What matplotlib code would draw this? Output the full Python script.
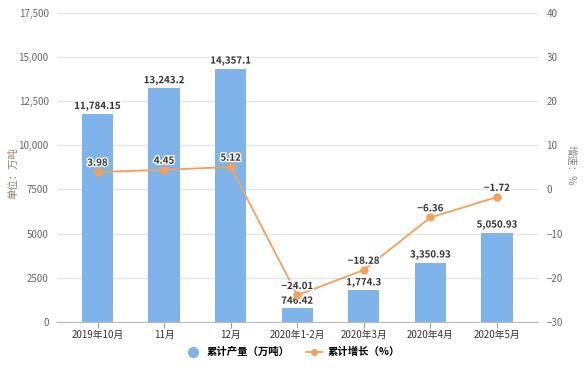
import matplotlib
matplotlib.use("Agg")
import matplotlib.pyplot as plt
import matplotlib.ticker as mtick
import matplotlib.patheffects as pe
from matplotlib.lines import Line2D

plt.rcParams['font.family'] = ['Noto Sans CJK SC', 'DejaVu Sans']

months = ['2019年10月', '11月', '12月', '2020年1-2月', '2020年3月', '2020年4月', '2020年5月']
output = [11784.15, 13243.2, 14357.1, 746.42, 1774.3, 3350.93, 5050.93]
growth = [3.98, 4.45, 5.12, -24.01, -18.28, -6.36, -1.72]
output_labels = ['11,784.15', '13,243.2', '14,357.1', '746.42', '1,774.3', '3,350.93', '5,050.93']
growth_labels = ['3.98', '4.45', '5.12', '−24.01', '−18.28', '−6.36', '−1.72']

bar_c = '#7eb4ea'
line_c = '#f5a05a'
grid_c = '#e6e6e6'
tick_c = '#666666'

fig = plt.figure(figsize=(5.85, 3.68), dpi=100)
ax = fig.add_axes([0.0974, 0.126, 0.8226, 0.838])
ax2 = ax.twinx()

x = list(range(len(months)))
ax.bar(x, output, width=0.47, color=bar_c, zorder=2)
ax.set_xlim(-0.61, 6.62)
ax.set_ylim(0, 17500)
ax.set_yticks(range(0, 17501, 2500))

def fmt(v, pos):
    return '{:,.0f}'.format(v) if v >= 10000 else '{:.0f}'.format(v)
ax.yaxis.set_major_formatter(mtick.FuncFormatter(fmt))

ax.grid(axis='y', color=grid_c, lw=1, zorder=0)
for s in ['top', 'right', 'left']:
    ax.spines[s].set_visible(False)
ax.spines['bottom'].set_color('#bbbbbb')
ax.set_xticks(x)
ax.set_xticklabels(months)
ax.tick_params(axis='x', length=4, color='#999999', labelsize=7, labelcolor='#333333', pad=2)
ax.tick_params(axis='y', length=0, labelsize=7, labelcolor=tick_c, pad=6)

ax2.plot(x, growth, color=line_c, lw=1.3, marker='o', ms=5, zorder=3)
ax2.set_ylim(-30, 40)
ax2.set_yticks(range(-30, 41, 10))
for s in ['top', 'right', 'left', 'bottom']:
    ax2.spines[s].set_visible(False)
ax2.tick_params(axis='y', length=0, labelsize=7, labelcolor=tick_c, pad=6)

halo = [pe.withStroke(linewidth=2, foreground='white')]
for xi, v, t in zip(x, output, output_labels):
    ax.annotate(t, (xi, v), xytext=(0, 2), textcoords='offset points', ha='center', va='bottom',
                fontsize=7, fontweight='bold', color='#333333', path_effects=halo, zorder=5)
for xi, v, t in zip(x, growth, growth_labels):
    ax2.annotate(t, (xi, v), xytext=(0, 3), textcoords='offset points', ha='center', va='bottom',
                 fontsize=7, fontweight='bold', color='#333333', path_effects=halo, zorder=5)

fig.text(0.022, 0.53, '单位：万吨', rotation=90, ha='center', va='center', fontsize=7.5, color='#9a7b6a')
fig.text(0.975, 0.55, '增速：%', rotation=270, ha='center', va='center', fontsize=7.5, color='#888888')

handles = [Line2D([], [], marker='o', ls='none', color=bar_c, ms=7),
           Line2D([], [], marker='o', color=line_c, lw=1.3, ms=4)]
fig.legend(handles, ['累计产量（万吨）', '累计增长（%）'], loc='center', bbox_to_anchor=(0.5, 0.043),
           ncol=2, frameon=False, handlelength=1.6, columnspacing=1.5, handletextpad=0.5,
           prop={'weight': 'bold', 'size': 7.5})

fig.savefig('out.png', dpi=100)
